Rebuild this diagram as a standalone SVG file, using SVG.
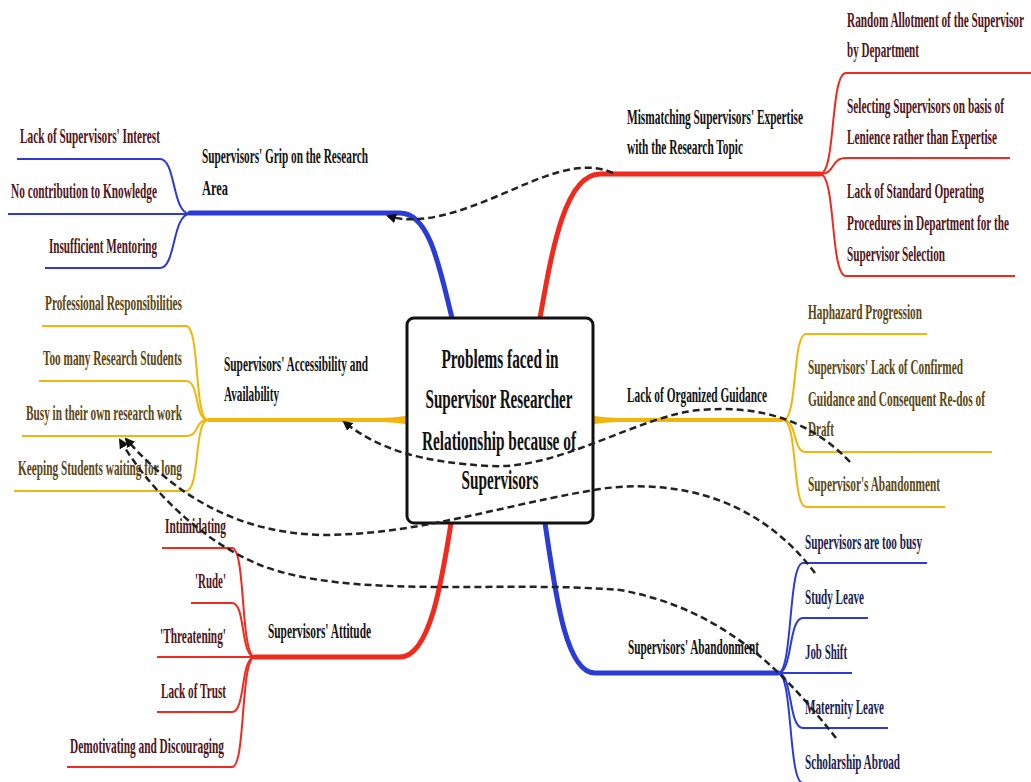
<svg xmlns="http://www.w3.org/2000/svg" width="1031" height="782" viewBox="0 0 1031 782">
<defs>
<style>
text{font-family:"Liberation Serif","Times New Roman",serif;font-weight:bold;}
.sub{font-size:21px;}
.main{font-size:21px;fill:#111;}
.center{font-size:27px;fill:#111;text-anchor:middle;}
.mr{fill:#4f141c;}
.ol{fill:#5a4612;}
.nv{fill:#1c1c52;}
.b{stroke:#2b3bd8;fill:none;}
.r{stroke:#f02a1c;fill:none;}
.y{stroke:#f2b50a;fill:none;}
.thick{stroke-width:5;stroke-linecap:round;}
.thin{stroke-width:2;}
.dash{fill:none;stroke:#222;stroke-width:2.5;stroke-dasharray:7 4;}
</style>
<marker id="arr" viewBox="0 0 10 10" refX="8" refY="5" markerWidth="4" markerHeight="4" orient="auto"><path d="M0,0 L10,5 L0,10 z" fill="#111"/></marker>
</defs>
<rect width="1031" height="782" fill="#fff"/>

<g id="branches">
<!-- Grip (blue) -->
<path class="b thick" d="M452 318 C440 270 430 213 400 213 L190 213"/>
<path class="b thin" d="M190 214 C172 214 176 159 160 159 L17 159"/>
<path class="b thin" d="M190 214 L8 214"/>
<path class="b thin" d="M190 214 C172 214 176 268 160 268 L45 268"/>
<!-- Mismatching (red) -->
<path class="r thick" d="M540 318 C552 250 565 174 600 174 L820 174"/>
<path class="r thin" d="M820 174 C836 174 830 73 846 73 L1031 73"/>
<path class="r thin" d="M820 174 C836 174 830 158 846 158 L1010 158"/>
<path class="r thin" d="M820 174 C836 174 830 276 846 276 L1015 276"/>
<!-- Accessibility (yellow) -->
<path class="y" stroke-width="4" d="M407 420 L208 420"/>
<path d="M408 415.5 L408 424.5 C395 422.5 385 422 375 422 L375 418 C385 418 395 417.5 408 415.5 z" fill="#f2b50a"/>
<path class="y thin" d="M208 420 C194 420 200 326 186 326 L42 326"/>
<path class="y thin" d="M208 420 C194 420 200 381 186 381 L39 381"/>
<path class="y thin" d="M208 420 C194 420 200 436 186 436 L22 436"/>
<path class="y thin" d="M208 420 C194 420 200 491 186 491 L14 491"/>
<!-- Guidance (yellow) -->
<path class="y" stroke-width="4" d="M593 420 L783 420"/>
<path d="M592 415.5 L592 424.5 C605 422.5 615 422 625 422 L625 418 C615 418 605 417.5 592 415.5 z" fill="#f2b50a"/>
<path class="y thin" d="M783 420 C798 420 792 334 806 334 L927 334"/>
<path class="y thin" d="M783 420 C798 420 792 452 806 452 L992 452"/>
<path class="y thin" d="M783 420 C798 420 792 507 806 507 L945 507"/>
<!-- Attitude (red) -->
<path class="r thick" d="M451 523 C442 580 430 657 400 657 L255 657"/>
<path class="r thin" d="M255 657 C240 657 246 548 232 548 L162 548"/>
<path class="r thin" d="M255 657 C240 657 246 603 232 603 L191 603"/>
<path class="r thin" d="M255 657 L157 657"/>
<path class="r thin" d="M255 657 C240 657 246 712 232 712 L157 712"/>
<path class="r thin" d="M255 657 C240 657 246 767 232 767 L67 767"/>
<!-- Abandonment (blue) -->
<path class="b thick" d="M545 523 C555 590 565 673 595 673 L778 673"/>
<path class="b thin" d="M778 673 C793 673 788 563 803 563 L927 563"/>
<path class="b thin" d="M778 673 C793 673 788 618 803 618 L868 618"/>
<path class="b thin" d="M778 673 L852 673"/>
<path class="b thin" d="M778 673 C793 673 788 728 803 728 L888 728"/>
<path class="b thin" d="M778 673 C793 673 788 783 803 783 L905 783"/>
</g>

<g id="center">
<rect x="407" y="318" width="186" height="205" rx="7" fill="#fff" stroke="#111" stroke-width="3"/>
<text class="center" x="500" y="368" textLength="117" lengthAdjust="spacingAndGlyphs">Problems faced in</text>
<text class="center" x="499" y="408" textLength="147" lengthAdjust="spacingAndGlyphs">Supervisor Researcher</text>
<text class="center" x="499" y="450" textLength="154" lengthAdjust="spacingAndGlyphs">Relationship because of</text>
<text class="center" x="500" y="489" textLength="77" lengthAdjust="spacingAndGlyphs">Supervisors</text>
</g>

<g id="grip">
<text class="main" x="202" y="163" textLength="166" lengthAdjust="spacingAndGlyphs">Supervisors' Grip on the Research</text>
<text class="main" x="202" y="195" textLength="26" lengthAdjust="spacingAndGlyphs">Area</text>
<text class="sub mr" x="20" y="143" textLength="140" lengthAdjust="spacingAndGlyphs">Lack of Supervisors' Interest</text>
<text class="sub mr" x="11" y="198" textLength="146" lengthAdjust="spacingAndGlyphs">No contribution to Knowledge</text>
<text class="sub mr" x="49" y="253" textLength="108" lengthAdjust="spacingAndGlyphs">Insufficient Mentoring</text>
</g>

<g id="accessibility">
<text class="main" x="224" y="371" textLength="144" lengthAdjust="spacingAndGlyphs">Supervisors' Accessibility and</text>
<text class="main" x="224" y="401" textLength="55" lengthAdjust="spacingAndGlyphs">Availability</text>
<text class="sub ol" x="45" y="310" textLength="137" lengthAdjust="spacingAndGlyphs">Professional Responsibilities</text>
<text class="sub ol" x="43" y="365" textLength="139" lengthAdjust="spacingAndGlyphs">Too many Research Students</text>
<text class="sub ol" x="26" y="420" textLength="156" lengthAdjust="spacingAndGlyphs">Busy in their own research work</text>
<text class="sub ol" x="18" y="475" textLength="164" lengthAdjust="spacingAndGlyphs">Keeping Students waiting for long</text>
</g>

<g id="attitude">
<text class="main" x="268" y="638" textLength="103" lengthAdjust="spacingAndGlyphs">Supervisors' Attitude</text>
<text class="sub mr" x="165" y="533" textLength="61" lengthAdjust="spacingAndGlyphs">Intimidating</text>
<text class="sub mr" x="195" y="588" textLength="31" lengthAdjust="spacingAndGlyphs">'Rude'</text>
<text class="sub mr" x="160" y="643" textLength="66" lengthAdjust="spacingAndGlyphs">'Threatening'</text>
<text class="sub mr" x="161" y="698" textLength="65" lengthAdjust="spacingAndGlyphs">Lack of Trust</text>
<text class="sub mr" x="70" y="753" textLength="154" lengthAdjust="spacingAndGlyphs">Demotivating and Discouraging</text>
</g>

<g id="mismatching">
<text class="main" x="627" y="124" textLength="176" lengthAdjust="spacingAndGlyphs">Mismatching Supervisors' Expertise</text>
<text class="main" x="627" y="154" textLength="116" lengthAdjust="spacingAndGlyphs">with the Research Topic</text>
<text class="sub mr" x="847" y="27" textLength="177" lengthAdjust="spacingAndGlyphs">Random Allotment of the Supervisor</text>
<text class="sub mr" x="847" y="57" textLength="72" lengthAdjust="spacingAndGlyphs">by Department</text>
<text class="sub mr" x="847" y="113" textLength="157" lengthAdjust="spacingAndGlyphs">Selecting Supervisors on basis of</text>
<text class="sub mr" x="847" y="144" textLength="150" lengthAdjust="spacingAndGlyphs">Lenience rather than Expertise</text>
<text class="sub mr" x="847" y="198" textLength="137" lengthAdjust="spacingAndGlyphs">Lack of Standard Operating</text>
<text class="sub mr" x="847" y="230" textLength="162" lengthAdjust="spacingAndGlyphs">Procedures in Department for the</text>
<text class="sub mr" x="847" y="261" textLength="98" lengthAdjust="spacingAndGlyphs">Supervisor Selection</text>
</g>

<g id="guidance">
<text class="main" x="627" y="402" textLength="140" lengthAdjust="spacingAndGlyphs">Lack of Organized Guidance</text>
<text class="sub ol" x="808" y="319" textLength="114" lengthAdjust="spacingAndGlyphs">Haphazard Progression</text>
<text class="sub ol" x="808" y="374" textLength="155" lengthAdjust="spacingAndGlyphs">Supervisors' Lack of Confirmed</text>
<text class="sub ol" x="808" y="406" textLength="177" lengthAdjust="spacingAndGlyphs">Guidance and Consequent Re-dos of</text>
<text class="sub ol" x="808" y="436" textLength="26" lengthAdjust="spacingAndGlyphs">Draft</text>
<text class="sub ol" x="808" y="491" textLength="132" lengthAdjust="spacingAndGlyphs">Supervisor's Abandonment</text>
</g>

<g id="abandonment">
<text class="main" x="628" y="654" textLength="131" lengthAdjust="spacingAndGlyphs">Supervisors' Abandonment</text>
<text class="sub nv" x="805" y="549" textLength="117" lengthAdjust="spacingAndGlyphs">Supervisors are too busy</text>
<text class="sub nv" x="805" y="604" textLength="59" lengthAdjust="spacingAndGlyphs">Study Leave</text>
<text class="sub nv" x="805" y="659" textLength="42" lengthAdjust="spacingAndGlyphs">Job Shift</text>
<text class="sub nv" x="805" y="714" textLength="79" lengthAdjust="spacingAndGlyphs">Maternity Leave</text>
<text class="sub nv" x="805" y="769" textLength="95" lengthAdjust="spacingAndGlyphs">Scholarship Abroad</text>
</g>

<g id="connectors">
<path class="dash" marker-end="url(#arr)" d="M613 173 C580 158 540 178 500 195 C460 212 420 226 388 216"/>
<path class="dash" marker-end="url(#arr)" d="M850 462 C810 420 760 405 700 410 C640 415 560 470 490 466 C420 462 380 450 344 422"/>
<path class="dash" marker-end="url(#arr)" d="M815 573 C760 500 680 478 600 489 C500 505 420 535 320 535 C240 532 180 500 126 439"/>
<path class="dash" marker-end="url(#arr)" d="M836 738 C790 680 730 610 620 590 C500 580 350 600 260 565 C200 540 150 490 120 440"/>
</g>
</svg>
